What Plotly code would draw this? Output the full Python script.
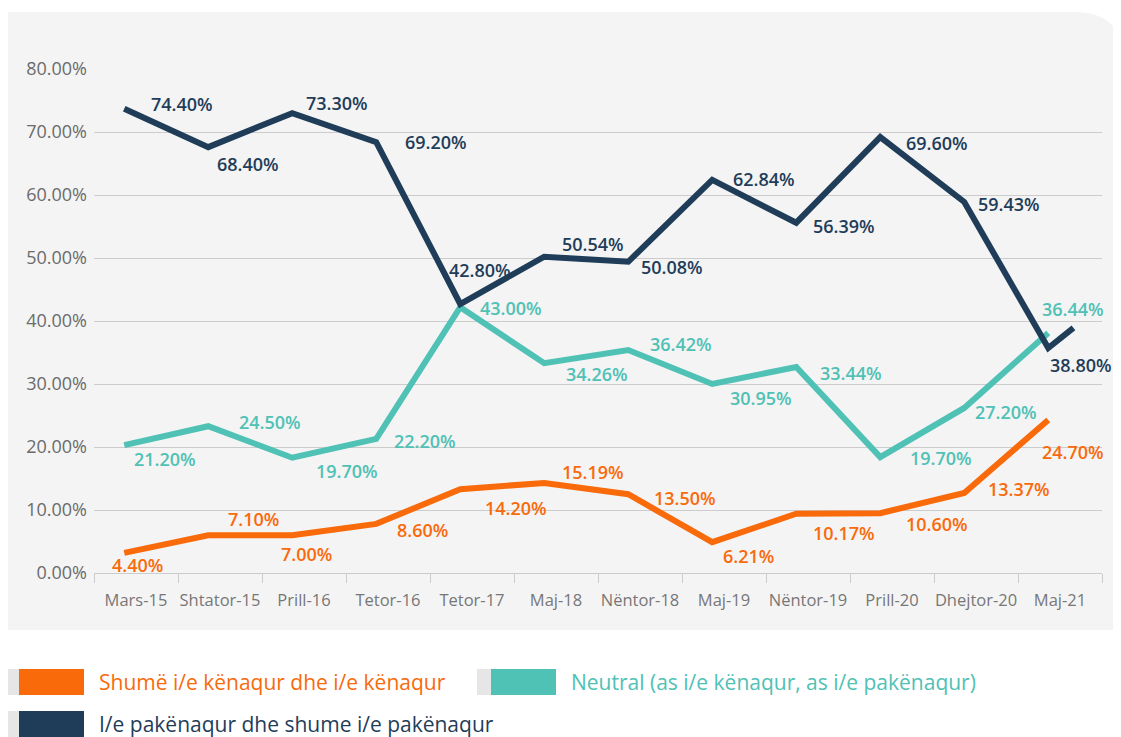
import plotly.graph_objects as go

# ---------------- data ----------------
categories = ["Mars-15", "Shtator-15", "Prill-16", "Tetor-16", "Tetor-17", "Maj-18",
              "Nëntor-18", "Maj-19", "Nëntor-19", "Prill-20", "Dhejtor-20", "Maj-21"]

# values (percent)
satisfied = [3.2, 6.0, 6.0, 7.8, 13.3, 14.3, 12.5, 4.9, 9.4, 9.5, 12.7, 24.3]
neutral = [20.3, 23.3, 18.3, 21.3, 42.2, 33.3, 35.4, 30.0, 32.7, 18.4, 26.2, 38.1]
dissatisfied = [73.7, 67.6, 73.0, 68.4, 42.7, 50.2, 49.4, 62.4, 55.6, 69.2, 58.9, 35.7]
dissatisfied_tail = 38.9  # extra end point of the dark line

# printed data labels
satisfied_labels = ["4.40%", "7.10%", "7.00%", "8.60%", "14.20%", "15.19%",
                    "13.50%", "6.21%", "10.17%", "10.60%", "13.37%", "24.70%"]
neutral_labels = ["21.20%", "24.50%", "19.70%", "22.20%", "43.00%", "34.26%",
                  "36.42%", "30.95%", "33.44%", "19.70%", "27.20%", "36.44%"]
dissatisfied_labels = ["74.40%", "68.40%", "73.30%", "69.20%", "42.80%", "50.54%",
                       "50.08%", "62.84%", "56.39%", "69.60%", "59.43%", "38.80%"]

series_names = ["Shumë i/e kënaqur dhe i/e kënaqur",
                "Neutral (as i/e kënaqur, as i/e pakënaqur)",
                "I/e pakënaqur dhe shume i/e pakënaqur"]

y_ticks = [0, 10, 20, 30, 40, 50, 60, 70, 80]

# ---------------- style / layout ----------------
ORANGE = "#f96a0b"
TEAL = "#4fc1b5"
NAVY = "#1f3d59"
GRID = "#cccccc"
FONT = "Open Sans"

W, H = 1121, 737
PAGE = 8  # page margin of the browser body
# plot area in screen pixels
SL, SR, ST, SB = 94, 1102, 69, 573
L, R, T, B = SL - PAGE, SR - PAGE, ST - PAGE, SB - PAGE
POINT_SHIFT = -0.14
TAIL_SHIFT = 0.16

# label offsets in pixels (dx right, dy down) relative to each point
sat_off = [(13, 12), (45, -16), (14, 19), (46, 6), (56, 19), (49, -11),
           (57, 4), (36, 14), (48, 19), (57, 11), (55, -4), (25, 32)]
neu_off = [(41, 14), (62, -4), (55, 13), (49, 2), (51, 1), (53, 11),
           (53, -6), (49, 14), (55, 6), (61, 1), (42, 4), (25, -24)]
dis_off = [(58, -5), (40, 17), (45, -10), (60, 0), (20, -34), (49, -13),
           (44, 5), (52, -1), (48, 3), (57, 6), (45, 2), (33, 17)]


def px(x):  # screen x -> paper
    return (x - SL) / (SR - SL)


def py(y):  # screen y -> paper
    return (SB - y) / (SB - ST)


xs = [i + POINT_SHIFT for i in range(len(categories))]

fig = go.Figure()
fig.add_trace(go.Scatter(x=xs, y=satisfied, mode="lines", name=series_names[0],
                         line=dict(color=ORANGE, width=6), cliponaxis=False))
fig.add_trace(go.Scatter(x=xs, y=neutral, mode="lines", name=series_names[1],
                         line=dict(color=TEAL, width=6), cliponaxis=False))
fig.add_trace(go.Scatter(x=xs + [len(categories) - 1 + TAIL_SHIFT],
                         y=dissatisfied + [dissatisfied_tail], mode="lines",
                         name=series_names[2],
                         line=dict(color=NAVY, width=6), cliponaxis=False))

annotations = []
for vals, labs, offs, col in [(satisfied, satisfied_labels, sat_off, ORANGE),
                              (neutral, neutral_labels, neu_off, TEAL),
                              (dissatisfied, dissatisfied_labels, dis_off, NAVY)]:
    for x, v, lab, (dx, dy) in zip(xs, vals, labs, offs):
        annotations.append(dict(x=x, y=v, xref="x", yref="y", text=lab,
                                showarrow=False, xshift=dx, yshift=-dy,
                                font=dict(family=FONT, size=18, color=col, weight=600)))

# legend (custom)
shapes = []
legend_items = [(19, 682, ORANGE, series_names[0]),
                (491, 682, TEAL, series_names[1]),
                (19, 724, NAVY, series_names[2])]
for x0, yc, col, name in legend_items:
    shapes.append(dict(type="rect", xref="paper", yref="paper",
                       x0=px(x0 - 14), x1=px(x0), y0=py(yc + 13), y1=py(yc - 13),
                       fillcolor="#e6e6e6", line=dict(width=0), layer="below"))
    shapes.append(dict(type="rect", xref="paper", yref="paper",
                       x0=px(x0), x1=px(x0 + 65), y0=py(yc + 13), y1=py(yc - 13),
                       fillcolor=col, line=dict(width=0), layer="below"))
    annotations.append(dict(x=px(x0 + 78), y=py(yc), xref="paper", yref="paper",
                            text=name, showarrow=False, xanchor="left", yanchor="middle",
                            font=dict(family=FONT, size=21, color=col)))

# background panel with rounded top-right corner
bx0, bx1, by0, by1, rad = 5, 1124, 12, 630, 50
path = (f"M {px(bx0)},{py(by1)} L {px(bx0)},{py(by0)} L {px(bx1 - rad)},{py(by0)} "
        f"Q {px(bx1)},{py(by0)} {px(bx1)},{py(by0 + rad)} L {px(bx1)},{py(by1)} Z")
shapes.insert(0, dict(type="path", xref="paper", yref="paper", path=path,
                      fillcolor="#f4f4f4", line=dict(width=0), layer="below"))

fig.update_layout(
    width=W, height=H,
    margin=dict(l=L, r=W - R, t=T, b=H - B, pad=0),
    paper_bgcolor="white", plot_bgcolor="rgba(0,0,0,0)",
    showlegend=False,
    shapes=shapes, annotations=annotations,
    font=dict(family=FONT),
)
fig.update_xaxes(
    range=[-0.5, len(categories) - 0.5], tickmode="array",
    tickvals=list(range(len(categories))), ticktext=categories,
    ticks="", showgrid=False, zeroline=False,
    showline=True, linecolor=GRID, linewidth=1,
    tickfont=dict(family=FONT, size=16.5, color="#777777"),
    ticklabelstandoff=12,
    minor=dict(tickmode="array", tickvals=[i - 0.5 for i in range(len(categories) + 1)],
               ticks="outside", ticklen=9, tickcolor=GRID, tickwidth=1, showgrid=False),
)
fig.update_yaxes(
    range=[0, 80], tickmode="array", tickvals=y_ticks,
    ticktext=[f"{v:.2f}%" for v in y_ticks],
    showgrid=True, gridcolor=GRID, gridwidth=1, zeroline=False,
    ticks="", tickfont=dict(family=FONT, size=18, color="#6b6b6b"),
    ticklabelstandoff=6,
)

fig.write_html("out.html")
